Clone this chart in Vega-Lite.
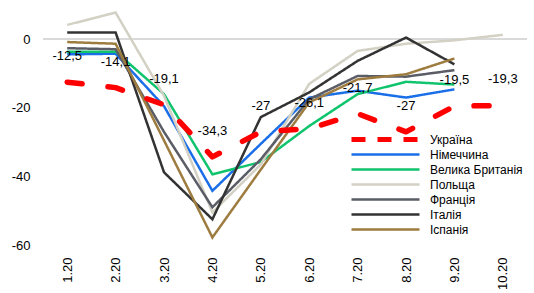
{
  "$schema": "https://vega.github.io/schema/vega-lite/v6.json",
  "width": 484,
  "height": 240,
  "autosize": {"type": "none"},
  "padding": {"left": 43, "top": 5, "right": 7, "bottom": 48},
  "config": {
    "view": {"stroke": null},
    "font": "Liberation Sans",
    "locale": {
      "number": {"decimal": ",", "thousands": " ", "grouping": [3], "currency": ["", ""], "minus": "-"}
    }
  },
  "data": {
    "values": [
      {"m": "1.20", "c": "Україна", "v": -12.5},
      {"m": "2.20", "c": "Україна", "v": -14.1},
      {"m": "3.20", "c": "Україна", "v": -19.1},
      {"m": "4.20", "c": "Україна", "v": -34.3},
      {"m": "5.20", "c": "Україна", "v": -27},
      {"m": "6.20", "c": "Україна", "v": -26.1},
      {"m": "7.20", "c": "Україна", "v": -21.7},
      {"m": "8.20", "c": "Україна", "v": -27},
      {"m": "9.20", "c": "Україна", "v": -19.5},
      {"m": "10.20", "c": "Україна", "v": -19.3},
      {"m": "1.20", "c": "Німеччина", "v": -4.4},
      {"m": "2.20", "c": "Німеччина", "v": -4.2},
      {"m": "3.20", "c": "Німеччина", "v": -19.5},
      {"m": "4.20", "c": "Німеччина", "v": -44.2},
      {"m": "5.20", "c": "Німеччина", "v": -30.5},
      {"m": "6.20", "c": "Німеччина", "v": -17},
      {"m": "7.20", "c": "Німеччина", "v": -15},
      {"m": "8.20", "c": "Німеччина", "v": -17},
      {"m": "9.20", "c": "Німеччина", "v": -14.6},
      {"m": "1.20", "c": "Велика Британія", "v": -3.6},
      {"m": "2.20", "c": "Велика Британія", "v": -3.6},
      {"m": "3.20", "c": "Велика Британія", "v": -16},
      {"m": "4.20", "c": "Велика Британія", "v": -39.4},
      {"m": "5.20", "c": "Велика Британія", "v": -35.8},
      {"m": "6.20", "c": "Велика Британія", "v": -25.3},
      {"m": "7.20", "c": "Велика Британія", "v": -16},
      {"m": "8.20", "c": "Велика Британія", "v": -12.4},
      {"m": "9.20", "c": "Велика Британія", "v": -13.2},
      {"m": "1.20", "c": "Польща", "v": 4.2},
      {"m": "2.20", "c": "Польща", "v": 7.8},
      {"m": "3.20", "c": "Польща", "v": -16.5},
      {"m": "4.20", "c": "Польща", "v": -50.5},
      {"m": "5.20", "c": "Польща", "v": -36.5},
      {"m": "6.20", "c": "Польща", "v": -13},
      {"m": "7.20", "c": "Польща", "v": -3.4},
      {"m": "8.20", "c": "Польща", "v": -1.3},
      {"m": "9.20", "c": "Польща", "v": -0.3},
      {"m": "10.20", "c": "Польща", "v": 1.3},
      {"m": "1.20", "c": "Франція", "v": -2.6},
      {"m": "2.20", "c": "Франція", "v": -2.9},
      {"m": "3.20", "c": "Франція", "v": -27},
      {"m": "4.20", "c": "Франція", "v": -49},
      {"m": "5.20", "c": "Франція", "v": -35},
      {"m": "6.20", "c": "Франція", "v": -17.5},
      {"m": "7.20", "c": "Франція", "v": -10.7},
      {"m": "8.20", "c": "Франція", "v": -10.9},
      {"m": "9.20", "c": "Франція", "v": -9},
      {"m": "1.20", "c": "Італія", "v": 2},
      {"m": "2.20", "c": "Італія", "v": 2},
      {"m": "3.20", "c": "Італія", "v": -38.8},
      {"m": "4.20", "c": "Італія", "v": -52.5},
      {"m": "5.20", "c": "Італія", "v": -22.7},
      {"m": "6.20", "c": "Італія", "v": -15.5},
      {"m": "7.20", "c": "Італія", "v": -6.3},
      {"m": "8.20", "c": "Італія", "v": 0.5},
      {"m": "9.20", "c": "Італія", "v": -7.3},
      {"m": "1.20", "c": "Іспанія", "v": -0.8},
      {"m": "2.20", "c": "Іспанія", "v": -1.3},
      {"m": "3.20", "c": "Іспанія", "v": -29.5},
      {"m": "4.20", "c": "Іспанія", "v": -57.8},
      {"m": "5.20", "c": "Іспанія", "v": -38},
      {"m": "6.20", "c": "Іспанія", "v": -18.4},
      {"m": "7.20", "c": "Іспанія", "v": -11.7},
      {"m": "8.20", "c": "Іспанія", "v": -10.2},
      {"m": "9.20", "c": "Іспанія", "v": -5.6}
    ]
  },
  "encoding": {
    "x": {
      "field": "m", "type": "ordinal",
      "sort": ["1.20","2.20","3.20","4.20","5.20","6.20","7.20","8.20","9.20","10.20"],
      "scale": {"type": "point", "padding": 0.5},
      "axis": {"title": null, "domain": false, "ticks": false, "labelAngle": -90, "labelFontSize": 13, "labelColor": "#000", "labelPadding": 12, "labelFont": "Liberation Sans"}
    },
    "y": {
      "field": "v", "type": "quantitative",
      "scale": {"domain": [-60, 10], "nice": false},
      "axis": {"title": null, "domain": false, "ticks": false, "grid": false, "values": [0, -20, -40, -60], "labelFontSize": 13, "labelColor": "#000", "labelPadding": 13, "labelFont": "Liberation Sans"}
    }
  },
  "layer": [
    {
      "mark": {"type": "rule", "color": "#D9D9D9", "strokeWidth": 1.5},
      "encoding": {"y": {"datum": 0}, "x": null}
    },
    {
      "transform": [{"filter": "datum.c !== 'Україна'"}],
      "mark": {"type": "line", "strokeJoin": "miter"},
      "encoding": {
        "color": {"field": "c", "type": "nominal", "scale": {"domain": ["Україна","Німеччина","Велика Британія","Польща","Франція","Італія","Іспанія"], "range": ["#FF0000","#1A6FE8","#10C46E","#D3D0C4","#5A5D66","#333333","#9E7C40"]},
          "legend": {"title": null, "orient": "none", "legendX": 306, "legendY": 127, "symbolType": "stroke", "symbolSize": 4624, "labelFontSize": 12, "labelColor": "#000", "labelOffset": 8, "clipHeight": 15, "rowPadding": 0, "padding": 0, "labelFont": "Liberation Sans"}},
        "strokeDash": {"field": "c", "type": "nominal", "scale": {"domain": ["Україна","Німеччина","Велика Британія","Польща","Франція","Італія","Іспанія"], "range": [[14,12],[1,0],[1,0],[1,0],[1,0],[1,0],[1,0]]}},
        "strokeWidth": {"field": "c", "type": "nominal", "scale": {"type": "ordinal", "domain": ["Україна","Німеччина","Велика Британія","Польща","Франція","Італія","Іспанія"], "range": [5,2.5,2.5,2.5,2.5,2.5,2.5]}}
      }
    },
    {
      "transform": [{"filter": "datum.c === 'Україна'"}],
      "mark": {"type": "line", "strokeCap": "round", "strokeJoin": "round", "strokeWidth": 5.5, "strokeDash": [15, 26], "color": "#FF0000"},
      "encoding": {
        "detail": {"field": "c", "type": "nominal"}
      }
    },
    {
      "transform": [{"filter": "datum.c === 'Україна'"}],
      "mark": {"type": "text", "dy": -26, "fontSize": 13, "color": "#000", "font": "Liberation Sans"},
      "encoding": {
        "text": {"field": "v", "type": "quantitative", "format": ".1~f"}
      }
    }
  ]
}
